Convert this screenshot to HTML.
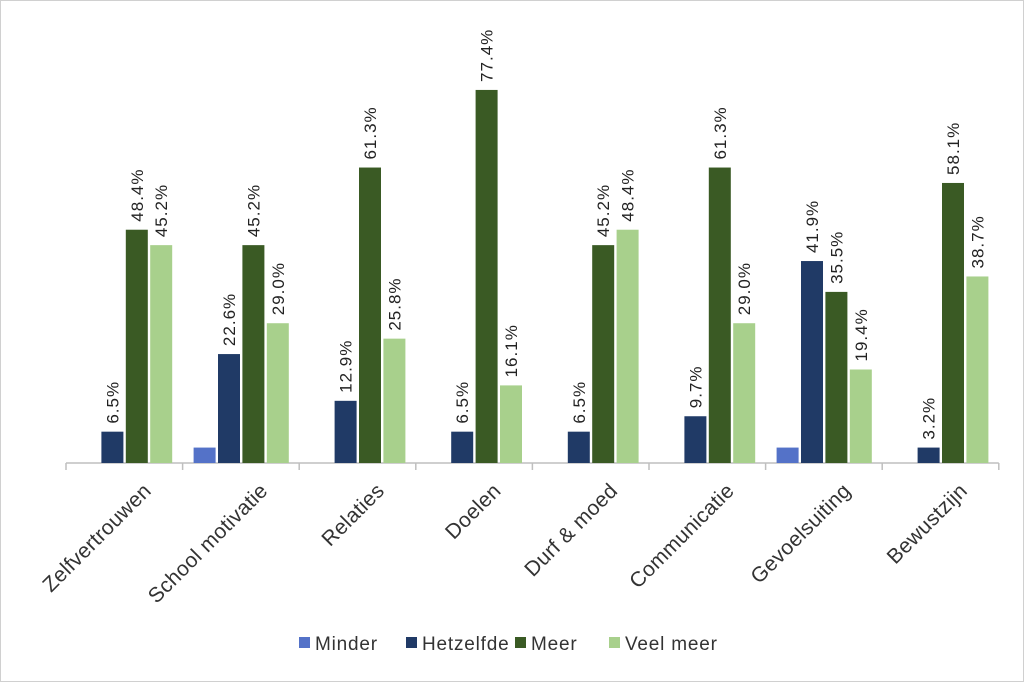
<!DOCTYPE html>
<html><head><meta charset="utf-8"><style>
body{margin:0;background:#fff;}
svg{display:block;font-family:"Liberation Sans",sans-serif;}
</style></head><body>
<svg id="chart" width="1024" height="682" viewBox="0 0 1024 682">
<rect x="0.5" y="0.5" width="1023" height="681" fill="#fff" stroke="#d0d0d0"/>
<g id="plot"></g>
</svg>
<script>
const categories=["Zelfvertrouwen","School motivatie","Relaties","Doelen","Durf & moed","Communicatie","Gevoelsuiting","Bewustzijn"];
const seriesNames=["Minder","Hetzelfde","Meer","Veel meer"];
const minder=[0,3.2,0,0,0,0,3.2,0];
const hetzelfde=[6.5,22.6,12.9,6.5,6.5,9.7,41.9,3.2];
const meer=[48.4,45.2,61.3,77.4,45.2,61.3,35.5,58.1];
const veelMeer=[45.2,29.0,25.8,16.1,48.4,29.0,19.4,38.7];
const series=[minder,hetzelfde,meer,veelMeer];
const colors=["#5472c8","#203a66","#3a5a24","#a8d08c"];
const NS="http://www.w3.org/2000/svg";
const g=document.getElementById('plot');
const x0=66,groupW=116.6,baseY=463,pxPer=4.82,barW=22,gap=2.4;
function yS(v){return baseY-v*pxPer;}
function xBar(i,s){return x0+11+i*groupW+s*(barW+gap);}
function mk(t,a){const e=document.createElementNS(NS,t);for(const k in a)e.setAttribute(k,a[k]);g.appendChild(e);return e;}
const ax=mk('line',{x1:x0,y1:baseY,x2:x0+8*groupW,y2:baseY,stroke:'#bfbfbf','stroke-width':1.5});


for(let i=0;i<=8;i++){
 const t=mk('line',{x1:x0+i*groupW,y1:baseY,x2:x0+i*groupW,y2:baseY+7,stroke:'#bfbfbf','stroke-width':1.5});
 
 
}
categories.forEach((c,i)=>{
 series.forEach((arr,s)=>{
  const v=arr[i]; if(v<=0)return;
  const x=xBar(i,s);
  const r=mk('rect',{x:x,y:yS(v),width:barW,height:v*pxPer,fill:colors[s]});
  
  
  if(s>0){
   const lx=x+barW/2+6, ly=yS(v)-8;
   const t=mk('text',{x:lx,y:ly,transform:`rotate(-90 ${lx} ${ly})`,'font-size':17,fill:'#222','letter-spacing':'1'});
   t.textContent=v.toFixed(1)+'%';
   
   
  }
 });
 const cx=x0+(i+0.5)*groupW+28, cy=492;
 const lab=mk('text',{x:cx,y:cy,transform:`rotate(-45 ${cx} ${cy})`,'text-anchor':'end','font-size':21,fill:'#333','letter-spacing':'0.3'});
 lab.textContent=c;
 
 
});
const legX=[299,406,515,609];
seriesNames.forEach((n,s)=>{
 const m=mk('rect',{x:legX[s],y:637,width:11,height:11,fill:colors[s]});
 
 
 const t=mk('text',{x:legX[s]+16,y:650,'font-size':19,fill:'#333','letter-spacing':'0.8'});
 t.textContent=n;
 
 
});
</script>
</body></html>
